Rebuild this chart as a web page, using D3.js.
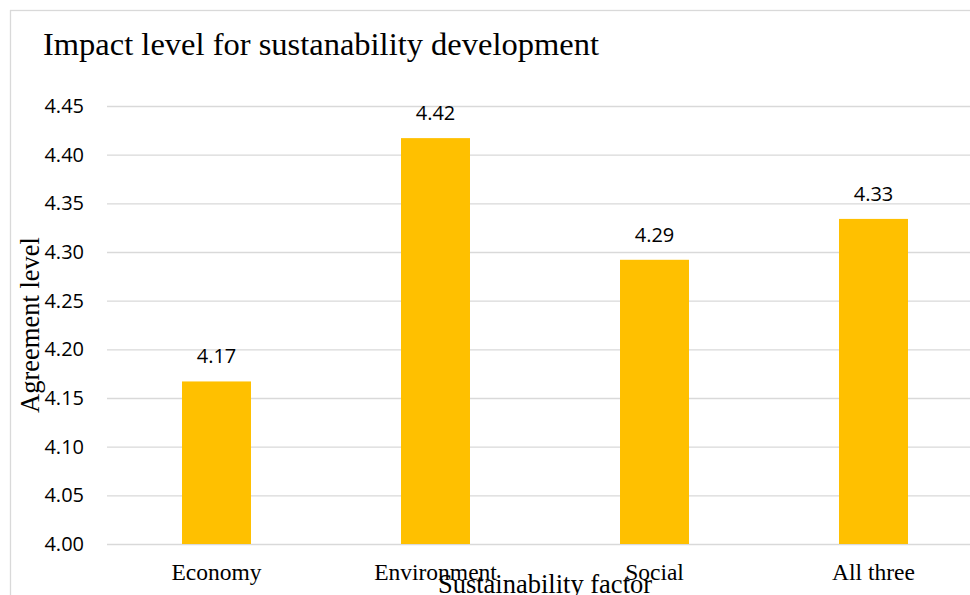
<!DOCTYPE html>
<html><head><meta charset="utf-8">
<script src="https://cdn.jsdelivr.net/npm/d3@7"></script>
<style>body{margin:0;background:#fff;}svg{display:block;}</style>
</head><body>
<svg id="c" width="970" height="595"></svg>
<script>
const categories = ["Economy", "Environment", "Social", "All three"];
const values = [4.167, 4.417, 4.292, 4.334];
const valueLabels = ["4.17", "4.42", "4.29", "4.33"];
const yTicks = [4.00, 4.05, 4.10, 4.15, 4.20, 4.25, 4.30, 4.35, 4.40, 4.45];
const chartTitle = "Impact level for sustanability development";
const xTitle = "Sustainability factor";
const yTitle = "Agreement level";

const svg = d3.select("#c");
const W = 970, H = 595;
const pLeft = 107, pRight = 983, pTop = 106, pBottom = 544;

// outer chart border (only top/left visible)
svg.append("rect").attr("x", 10.5).attr("y", 10.5).attr("width", 1000).attr("height", 1000)
  .attr("fill", "#fff").attr("stroke", "#d9d9d9").attr("stroke-width", 1.3);

const x = d3.scaleBand().domain(categories).range([pLeft, pRight]).paddingInner(0.685).paddingOuter(0.3425);
const y = d3.scaleLinear().domain([4.0, 4.45]).range([pBottom, pTop]);

// gridlines
const yAxis = d3.axisLeft(y).tickValues(yTicks).tickSize(-(W - pLeft)).tickFormat(d3.format(".2f")).tickPadding(23);
const ga = svg.append("g").attr("transform", `translate(${pLeft},0)`).call(yAxis);
ga.select(".domain").remove();
ga.selectAll(".tick line").attr("stroke", "#d9d9d9").attr("stroke-width", 1.3);
ga.selectAll(".tick text").attr("font-family", "Open Sans, sans-serif").attr("font-size", 20).attr("fill", "#000");

// bars
svg.append("g").selectAll("rect").data(categories).join("rect")
  .attr("x", d => x(d)).attr("width", x.bandwidth())
  .attr("y", (d, i) => y(values[i])).attr("height", (d, i) => y(4.0) - y(values[i]))
  .attr("fill", "#FFC000");

// value labels
svg.append("g").selectAll("text").data(categories).join("text")
  .attr("x", d => x(d) + x.bandwidth() / 2)
  .attr("y", (d, i) => y(values[i]) - 18)
  .attr("text-anchor", "middle")
  .attr("font-family", "Open Sans, sans-serif").attr("font-size", 20).attr("fill", "#000")
  .text((d, i) => valueLabels[i]);

// x axis labels
const xAxis = d3.axisBottom(x).tickSize(0).tickPadding(0);
const gx = svg.append("g").attr("transform", `translate(0,${pBottom})`).call(xAxis);
gx.select(".domain").remove();
gx.selectAll(".tick text").attr("font-family", "Liberation Serif, Times New Roman, serif")
  .attr("font-size", 23.5).attr("fill", "#000").attr("dy", null).attr("y", 36);

// titles
svg.append("text").attr("x", 43).attr("y", 55)
  .attr("font-family", "Liberation Serif, Times New Roman, serif").attr("font-size", 32.5).attr("fill", "#000")
  .text(chartTitle);

svg.append("text").attr("x", (pLeft + pRight) / 2).attr("y", 593).attr("text-anchor", "middle")
  .attr("font-family", "Liberation Serif, Times New Roman, serif").attr("font-size", 26.5).attr("fill", "#000")
  .text(xTitle);

svg.append("text").attr("transform", `translate(39,${(pTop + pBottom) / 2}) rotate(-90)`).attr("text-anchor", "middle")
  .attr("font-family", "Liberation Serif, Times New Roman, serif").attr("font-size", 26.5).attr("fill", "#000")
  .text(yTitle);
</script>
</body></html>
